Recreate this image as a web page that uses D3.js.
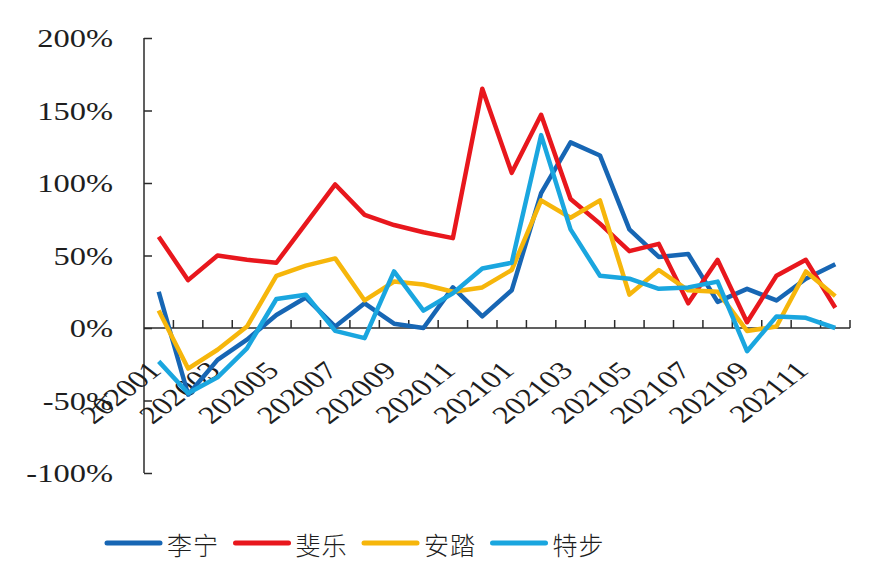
<!DOCTYPE html>
<html>
<head>
<meta charset="utf-8">
<script src="https://cdn.jsdelivr.net/npm/d3@7"></script>
<style>
  html, body { margin: 0; padding: 0; background: #fff; }
  svg { display: block; }
</style>
</head>
<body>
<svg id="chart" width="880" height="578"></svg>
<script>
(function () {
'use strict';

// months shown on the x axis
var months = ['202001', '202002', '202003', '202004', '202005', '202006',
              '202007', '202008', '202009', '202010', '202011', '202012',
              '202101', '202102', '202103', '202104', '202105', '202106',
              '202107', '202108', '202109', '202110', '202111', '202112'];

var brands = ['李宁', '斐乐', '安踏', '特步'];

// growth rates in %
var lining = [25, -46, -22, -8, 9, 21, 1, 17, 3, 0, 28, 8,
              26, 93, 128, 119, 68, 49, 51, 18, 27, 19, 34, 44];
var fila = [63, 33, 50, 47, 45, 72, 99, 78, 71, 66, 62, 165,
            107, 147, 89, 72, 53, 58, 17, 47, 4, 36, 47, 14];
var anta = [12, -28, -15, 1, 36, 43, 48, 19, 32, 30, 25, 28,
            40, 88, 76, 88, 23, 40, 26, 25, -2, 1, 39, 22];
var xtep = [-23, -45, -34, -14, 20, 23, -2, -7, 39, 12, 24, 41,
            45, 133, 68, 36, 34, 27, 28, 32, -16, 8, 7, 0];

var yTicks = [-100, -50, 0, 50, 100, 150, 200];

var series = [lining, fila, anta, xtep];
var COLORS = ['#1766b4', '#e8171d', '#f6b60b', '#1aa6df'];

var LEFT = 144;
var RIGHT = 850;
var TOP = 38;
var BOTTOM = 473;
var AXIS_COLOR = '#2b2b2b';
var TEXT_COLOR = '#1e1e1e';
var TICK_FONT = '"Liberation Serif", "Times New Roman", serif';
var STRETCH = 1.3;

var svg = d3.select('#chart');

var x = d3.scaleBand()
    .domain(months)
    .range([LEFT, RIGHT])
    .padding(0);

var y = d3.scaleLinear()
    .domain([-100, 200])
    .range([BOTTOM, TOP]);

var xc = function (m) { return x(m) + x.bandwidth() / 2; };

// y axis
var yAxis = d3.axisRight(y)
    .tickValues(yTicks)
    .tickSize(8)
    .tickFormat('');

var gy = svg.append('g')
    .attr('transform', 'translate(' + LEFT + ',0)')
    .call(yAxis);
gy.select('.domain').attr('d', 'M0,' + TOP + 'V' + BOTTOM);
gy.selectAll('line, path')
    .style('stroke', AXIS_COLOR)
    .style('stroke-width', 1.5);

yTicks.forEach(function (v) {
    svg.append('text')
        .attr('transform', 'translate(113,' + y(v) + ') scale(' + STRETCH + ',1)')
        .attr('dy', '0.36em')
        .attr('text-anchor', 'end')
        .style('font-family', TICK_FONT)
        .style('font-size', '25px')
        .style('fill', TEXT_COLOR)
        .text(v + '%');
});

// x axis sits on the zero line, ticks between months pointing up
var boundaries = months.map(function (m) { return x(m); }).concat([RIGHT]);
var gx = svg.append('g');
gx.append('line')
    .attr('x1', LEFT).attr('x2', RIGHT)
    .attr('y1', y(0)).attr('y2', y(0))
    .style('stroke', AXIS_COLOR)
    .style('stroke-width', 1.5);
gx.selectAll('line.tick')
    .data(boundaries.slice(1))
    .enter().append('line')
    .attr('class', 'tick')
    .attr('x1', function (d) { return d; })
    .attr('x2', function (d) { return d; })
    .attr('y1', y(0))
    .attr('y2', y(0) - 8)
    .style('stroke', AXIS_COLOR)
    .style('stroke-width', 1.5);

months.forEach(function (m, i) {
    if (i % 2 !== 0) {
        return;
    }
    svg.append('text')
        .attr('transform', 'translate(' + (xc(m) + 4) + ',372) scale(' + STRETCH + ',1) rotate(-45)')
        .attr('text-anchor', 'end')
        .style('font-family', TICK_FONT)
        .style('font-size', '25px')
        .style('fill', TEXT_COLOR)
        .text(m);
});

// lines
var line = d3.line()
    .x(function (d, i) { return xc(months[i]); })
    .y(function (d) { return y(d); });

series.forEach(function (values, k) {
    svg.append('path')
        .datum(values)
        .attr('d', line)
        .attr('fill', 'none')
        .attr('stroke', COLORS[k])
        .attr('stroke-width', 4.5)
        .attr('stroke-linejoin', 'round');
});

// legend
var legendX = d3.scaleBand()
    .domain(brands)
    .range([107, 621]);

brands.forEach(function (name, k) {
    var lx = legendX(name);
    svg.append('line')
        .attr('x1', lx).attr('x2', lx + 53)
        .attr('y1', 543).attr('y2', 543)
        .attr('stroke', COLORS[k])
        .attr('stroke-width', 5)
        .attr('stroke-linecap', 'round');
    svg.append('text')
        .attr('x', lx + 60)
        .attr('y', 546)
        .attr('dy', '0.35em')
        .style('font-family', '"Noto Sans CJK SC", sans-serif')
        .style('font-size', '25px')
        .style('font-weight', 300)
        .style('letter-spacing', '1px')
        .style('fill', TEXT_COLOR)
        .text(name);
});
})();
</script>
</body>
</html>
